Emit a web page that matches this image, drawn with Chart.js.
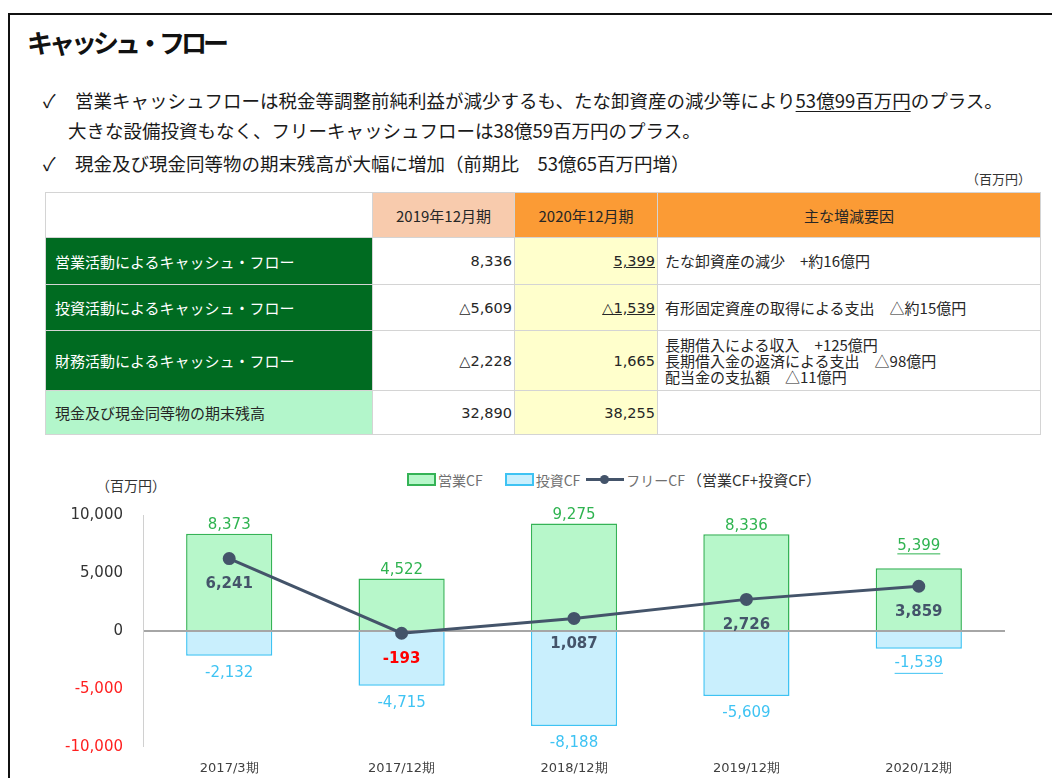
<!DOCTYPE html>
<html lang="ja">
<head>
<meta charset="utf-8">
<script src="https://cdn.jsdelivr.net/npm/chart.js@4.4.1/dist/chart.umd.min.js"></script>
<style>
  body { margin: 0; width: 1052px; height: 778px; position: relative; overflow: hidden; background: #fff;
         font-family: "Noto Sans CJK JP", "Noto Sans", sans-serif; color: #222; }
  .frame { position: absolute; left: 8px; top: 13px; right: -4px; bottom: -4px; border-top: 2px solid #111; border-left: 2px solid #111; }
  .title { position: absolute; left: 27px; top: 23px; font-size: 26px; font-weight: 700; letter-spacing: -4px; color: #111; }
  .bullet { position: absolute; font-size: 18.5px; white-space: nowrap; color: #1a1a1a; }
  .bullet .ck { display: inline-block; width: 32px; }
  .bullet u { text-decoration-thickness: 1px; text-underline-offset: 3px; }
  .unit { position: absolute; font-size: 13px; color: #333; }
  table { position: absolute; left: 45px; top: 192px; border-collapse: collapse; table-layout: fixed; font-size: 15px; color: #262626; }
  td { border: 1px solid #d4d4d4; padding: 0 4px; white-space: nowrap; }
  td.num { text-align: right; padding-right: 2px; font-family: "DejaVu Sans", "Noto Sans CJK JP", sans-serif; font-size: 14.5px; }
  td.lbl { background: #006b21; color: #fff; padding-left: 9px; }
  td.hd { text-align: center; }
  .y20 { background: #ffffcc; }
  .reason { padding-left: 7px; line-height: 16px; }
  .chart-box { position: absolute; left: 0; top: 500px; width: 1052px; height: 278px; }
  .legend { position: absolute; top: 469px; left: 407px; font-size: 14px; color: #707070; white-space: nowrap; display: flex; align-items: center; }
  .sw { display: inline-block; width: 25px; height: 9px; margin-right: 2px; }
  .ln { display: inline-block; width: 38px; height: 3px; background: #44546a; position: relative; margin-right: 2px; }
  .ln::after { content: ""; position: absolute; left: 14px; top: -3px; width: 9px; height: 9px; border-radius: 50%; background: #44546a; }
</style>
</head>
<body>
<div class="frame"></div>
<div class="title">キャッシュ・フロー</div>
<div class="bullet" style="left:43px; top:87px;"><span class="ck">✓</span>営業キャッシュフローは税金等調整前純利益が減少するも、たな卸資産の減少等により<u>53億99百万円</u>のプラス。</div>
<div class="bullet" style="left:68px; top:117px;">大きな設備投資もなく、フリーキャッシュフローは38億59百万円のプラス。</div>
<div class="bullet" style="left:43px; top:150px;"><span class="ck">✓</span>現金及び現金同等物の期末残高が大幅に増加（前期比　53億65百万円増）</div>
<div class="unit" style="left:966px; top:169px;">（百万円）</div>

<table>
  <colgroup><col style="width:327px"><col style="width:142px"><col style="width:143px"><col style="width:383px"></colgroup>
  <tr style="height:45px">
    <td></td>
    <td class="hd" style="background:#f8cbad">2019年12月期</td>
    <td class="hd" style="background:#fb9b35">2020年12月期</td>
    <td class="hd" style="background:#fb9b35">主な増減要因</td>
  </tr>
  <tr style="height:47px">
    <td class="lbl">営業活動によるキャッシュ・フロー</td>
    <td class="num">8,336</td>
    <td class="num y20"><u>5,399</u></td>
    <td class="reason">たな卸資産の減少　+約16億円</td>
  </tr>
  <tr style="height:46px">
    <td class="lbl">投資活動によるキャッシュ・フロー</td>
    <td class="num">△5,609</td>
    <td class="num y20"><u>△1,539</u></td>
    <td class="reason">有形固定資産の取得による支出　△約15億円</td>
  </tr>
  <tr style="height:60px">
    <td class="lbl">財務活動によるキャッシュ・フロー</td>
    <td class="num">△2,228</td>
    <td class="num y20">1,665</td>
    <td class="reason">長期借入による収入　+125億円<br>長期借入金の返済による支出　△98億円<br>配当金の支払額　△11億円</td>
  </tr>
  <tr style="height:44px">
    <td style="background:#b3f6cb; padding-left:9px;">現金及び現金同等物の期末残高</td>
    <td class="num">32,890</td>
    <td class="num y20">38,255</td>
    <td></td>
  </tr>
</table>

<div class="unit" style="left:96px; top:475px; font-size:14px;">（百万円）</div>
<div class="legend">
  <span class="sw" style="background:#b7f7ca; border:2px solid #35b356;"></span><span>営業CF</span>
  <span class="sw" style="background:#c9effd; border:2px solid #3ec3f3; margin-left:22px;"></span><span>投資CF</span>
  <span class="ln" style="margin-left:6px;"></span><span>フリーCF</span>
  <span style="color:#333; margin-left:2px; font-size:15px;">（営業CF+投資CF）</span>
</div>

<div class="chart-box"><canvas id="cfChart"></canvas></div>

<script>
const periods = ['2017/3期', '2017/12期', '2018/12期', '2019/12期', '2020/12期'];
const operatingCF = [8373, 4522, 9275, 8336, 5399];
const investingCF = [-2132, -4715, -8188, -5609, -1539];
const freeCF = [6241, -193, 1087, 2726, 3859];
const yMin = -10000;
const yMax = 10000;
const yStep = 5000;

const green = '#2fb350';
const blue = '#3ec3f3';
const navy = '#44546a';
const numFont = '"DejaVu Sans", sans-serif';

function fmt(v) {
  return v.toLocaleString('en-US');
}

// value labels over / under bars and the free CF points
const valueLabels = {
  id: 'valueLabels',
  afterDatasetsDraw(chart) {
    const ctx = chart.ctx;
    ctx.save();
    ctx.textAlign = 'center';
    const last = periods.length - 1;

    chart.getDatasetMeta(0).data.forEach((bar, i) => {
      ctx.font = '15px ' + numFont;
      ctx.fillStyle = green;
      ctx.textBaseline = 'bottom';
      const y = i === last ? bar.y - 15 : bar.y - 1;
      ctx.fillText(fmt(operatingCF[i]), bar.x, y);
      if (i === last) {
        const w = ctx.measureText(fmt(operatingCF[i])).width;
        ctx.fillRect(bar.x - w / 2, y, w, 1);
      }
    });

    chart.getDatasetMeta(1).data.forEach((bar, i) => {
      ctx.font = '15px ' + numFont;
      ctx.fillStyle = blue;
      ctx.textBaseline = 'top';
      const y = i === last ? bar.y + 7 : bar.y + 10;
      ctx.fillText(fmt(investingCF[i]), bar.x, y);
      if (i === last) {
        const w = ctx.measureText(fmt(investingCF[i])).width;
        ctx.fillRect(bar.x - w / 2, y + 17, w, 1);
      }
    });

    chart.getDatasetMeta(2).data.forEach((pt, i) => {
      ctx.font = 'bold 15px ' + numFont;
      ctx.fillStyle = freeCF[i] < 0 ? '#ff0000' : navy;
      ctx.textBaseline = 'middle';
      ctx.fillText(fmt(freeCF[i]), pt.x, pt.y + 26);
    });
    ctx.restore();
  }
};

new Chart(document.getElementById('cfChart'), {
  data: {
    labels: periods,
    datasets: [
      {
        type: 'bar',
        label: '営業CF',
        data: operatingCF,
        backgroundColor: '#b7f7ca',
        borderColor: '#35b356',
        borderWidth: 1.5,
        grouped: false,
        order: 2,
      },
      {
        type: 'bar',
        label: '投資CF',
        data: investingCF,
        backgroundColor: '#c9effd',
        borderColor: blue,
        borderWidth: 1.5,
        grouped: false,
        order: 1,
      },
      {
        type: 'line',
        label: 'フリーCF',
        data: freeCF,
        borderColor: navy,
        backgroundColor: navy,
        borderWidth: 3,
        pointRadius: 5,
        tension: 0,
        order: 0,
      },
    ],
  },
  options: {
    responsive: true,
    maintainAspectRatio: false,
    animation: false,
    datasets: { bar: { barPercentage: 0.5, categoryPercentage: 1 } },
    layout: { padding: { top: 15, right: 47, bottom: 0, left: 0 } },
    plugins: { legend: { display: false }, tooltip: { enabled: false } },
    scales: {
      x: {
        grid: { display: false, drawTicks: false },
        border: { display: false },
        ticks: { color: '#404040', font: { family: numFont, size: 13 }, padding: 14, maxRotation: 0, autoSkip: false },
        afterFit(scale) {
          scale.height = 31;
          scale.paddingLeft = 0;
          scale.paddingRight = 0;
        },
      },
      y: {
        min: yMin,
        max: yMax,
        ticks: {
          stepSize: yStep,
          padding: 20,
          font: { family: numFont, size: 15 },
          color: (c) => (c.tick.value < 0 ? '#ff2020' : '#333'),
          callback: (v) => fmt(v),
        },
        grid: {
          drawTicks: false,
          color: (c) => (c.tick.value === 0 ? '#a6a6a6' : 'rgba(0,0,0,0)'),
          lineWidth: (c) => (c.tick.value === 0 ? 2 : 0),
        },
        border: { display: true, color: '#d0d0d0', width: 1 },
        afterFit(scale) {
          scale.width = 143;
          scale.paddingTop = 0;
          scale.paddingBottom = 0;
        },
      },
    },
  },
  plugins: [valueLabels],
});
</script>
</body>
</html>
